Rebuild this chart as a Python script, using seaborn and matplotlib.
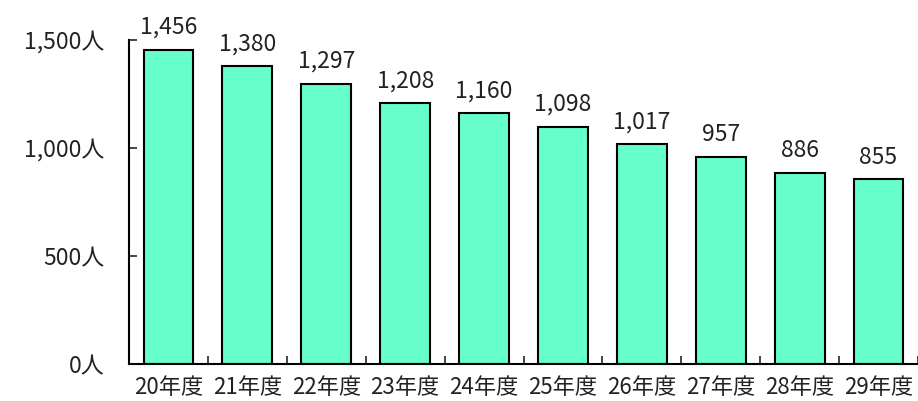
import matplotlib
matplotlib.use("Agg")
import matplotlib.pyplot as plt
import seaborn as sns
import pandas as pd

years = ["20年度", "21年度", "22年度", "23年度", "24年度",
         "25年度", "26年度", "27年度", "28年度", "29年度"]
counts = [1456, 1380, 1297, 1208, 1160, 1098, 1017, 957, 886, 855]
y_ticks = [0, 500, 1000, 1500]

sns.set_theme(style="white")
plt.rcParams['font.family'] = ['Noto Sans CJK JP', 'DejaVu Sans']

df = pd.DataFrame({"year": years, "count": counts})

fig = plt.figure(figsize=(9.18, 4.01), dpi=100)
ax = fig.add_axes([129 / 918, 37 / 401, 1 - 129 / 918, (364 - 40) / 401])

sns.barplot(data=df, x="year", y="count", color="#66FFCC", width=0.63,
            edgecolor="black", linewidth=1.5, saturation=1, ax=ax)

# value labels above bars
for i, v in enumerate(counts):
    ax.text(i, v + 50, f"{v:,}", ha="center", va="bottom",
            fontsize=16.5, color="#222222", clip_on=False)

ax.set_xlim(-0.5, len(years) - 0.5)
ax.set_ylim(0, 1500)
ax.set_yticks(y_ticks)
ax.set_yticklabels([f"{t:,}人" for t in y_ticks], fontsize=16.5, color="#222222")
ax.set_xticks(range(len(years)))
ax.set_xticklabels(years, fontsize=16, color="#222222")
ax.tick_params(axis="x", length=0, pad=9)
ax.tick_params(axis="y", direction="in", length=6, width=1.2, pad=18, left=True)

# small inward ticks between categories
ax.set_xticks([i - 0.5 for i in range(len(years) + 1)], minor=True)
ax.tick_params(axis="x", which="minor", direction="in", length=6, width=1.2, bottom=True)

ax.set_xlabel("")
ax.set_ylabel("")
sns.despine(ax=ax, top=True, right=True)
for s in ["left", "bottom"]:
    ax.spines[s].set_color("black")
    ax.spines[s].set_linewidth(1.5)

fig.savefig("out.png", dpi=100)
